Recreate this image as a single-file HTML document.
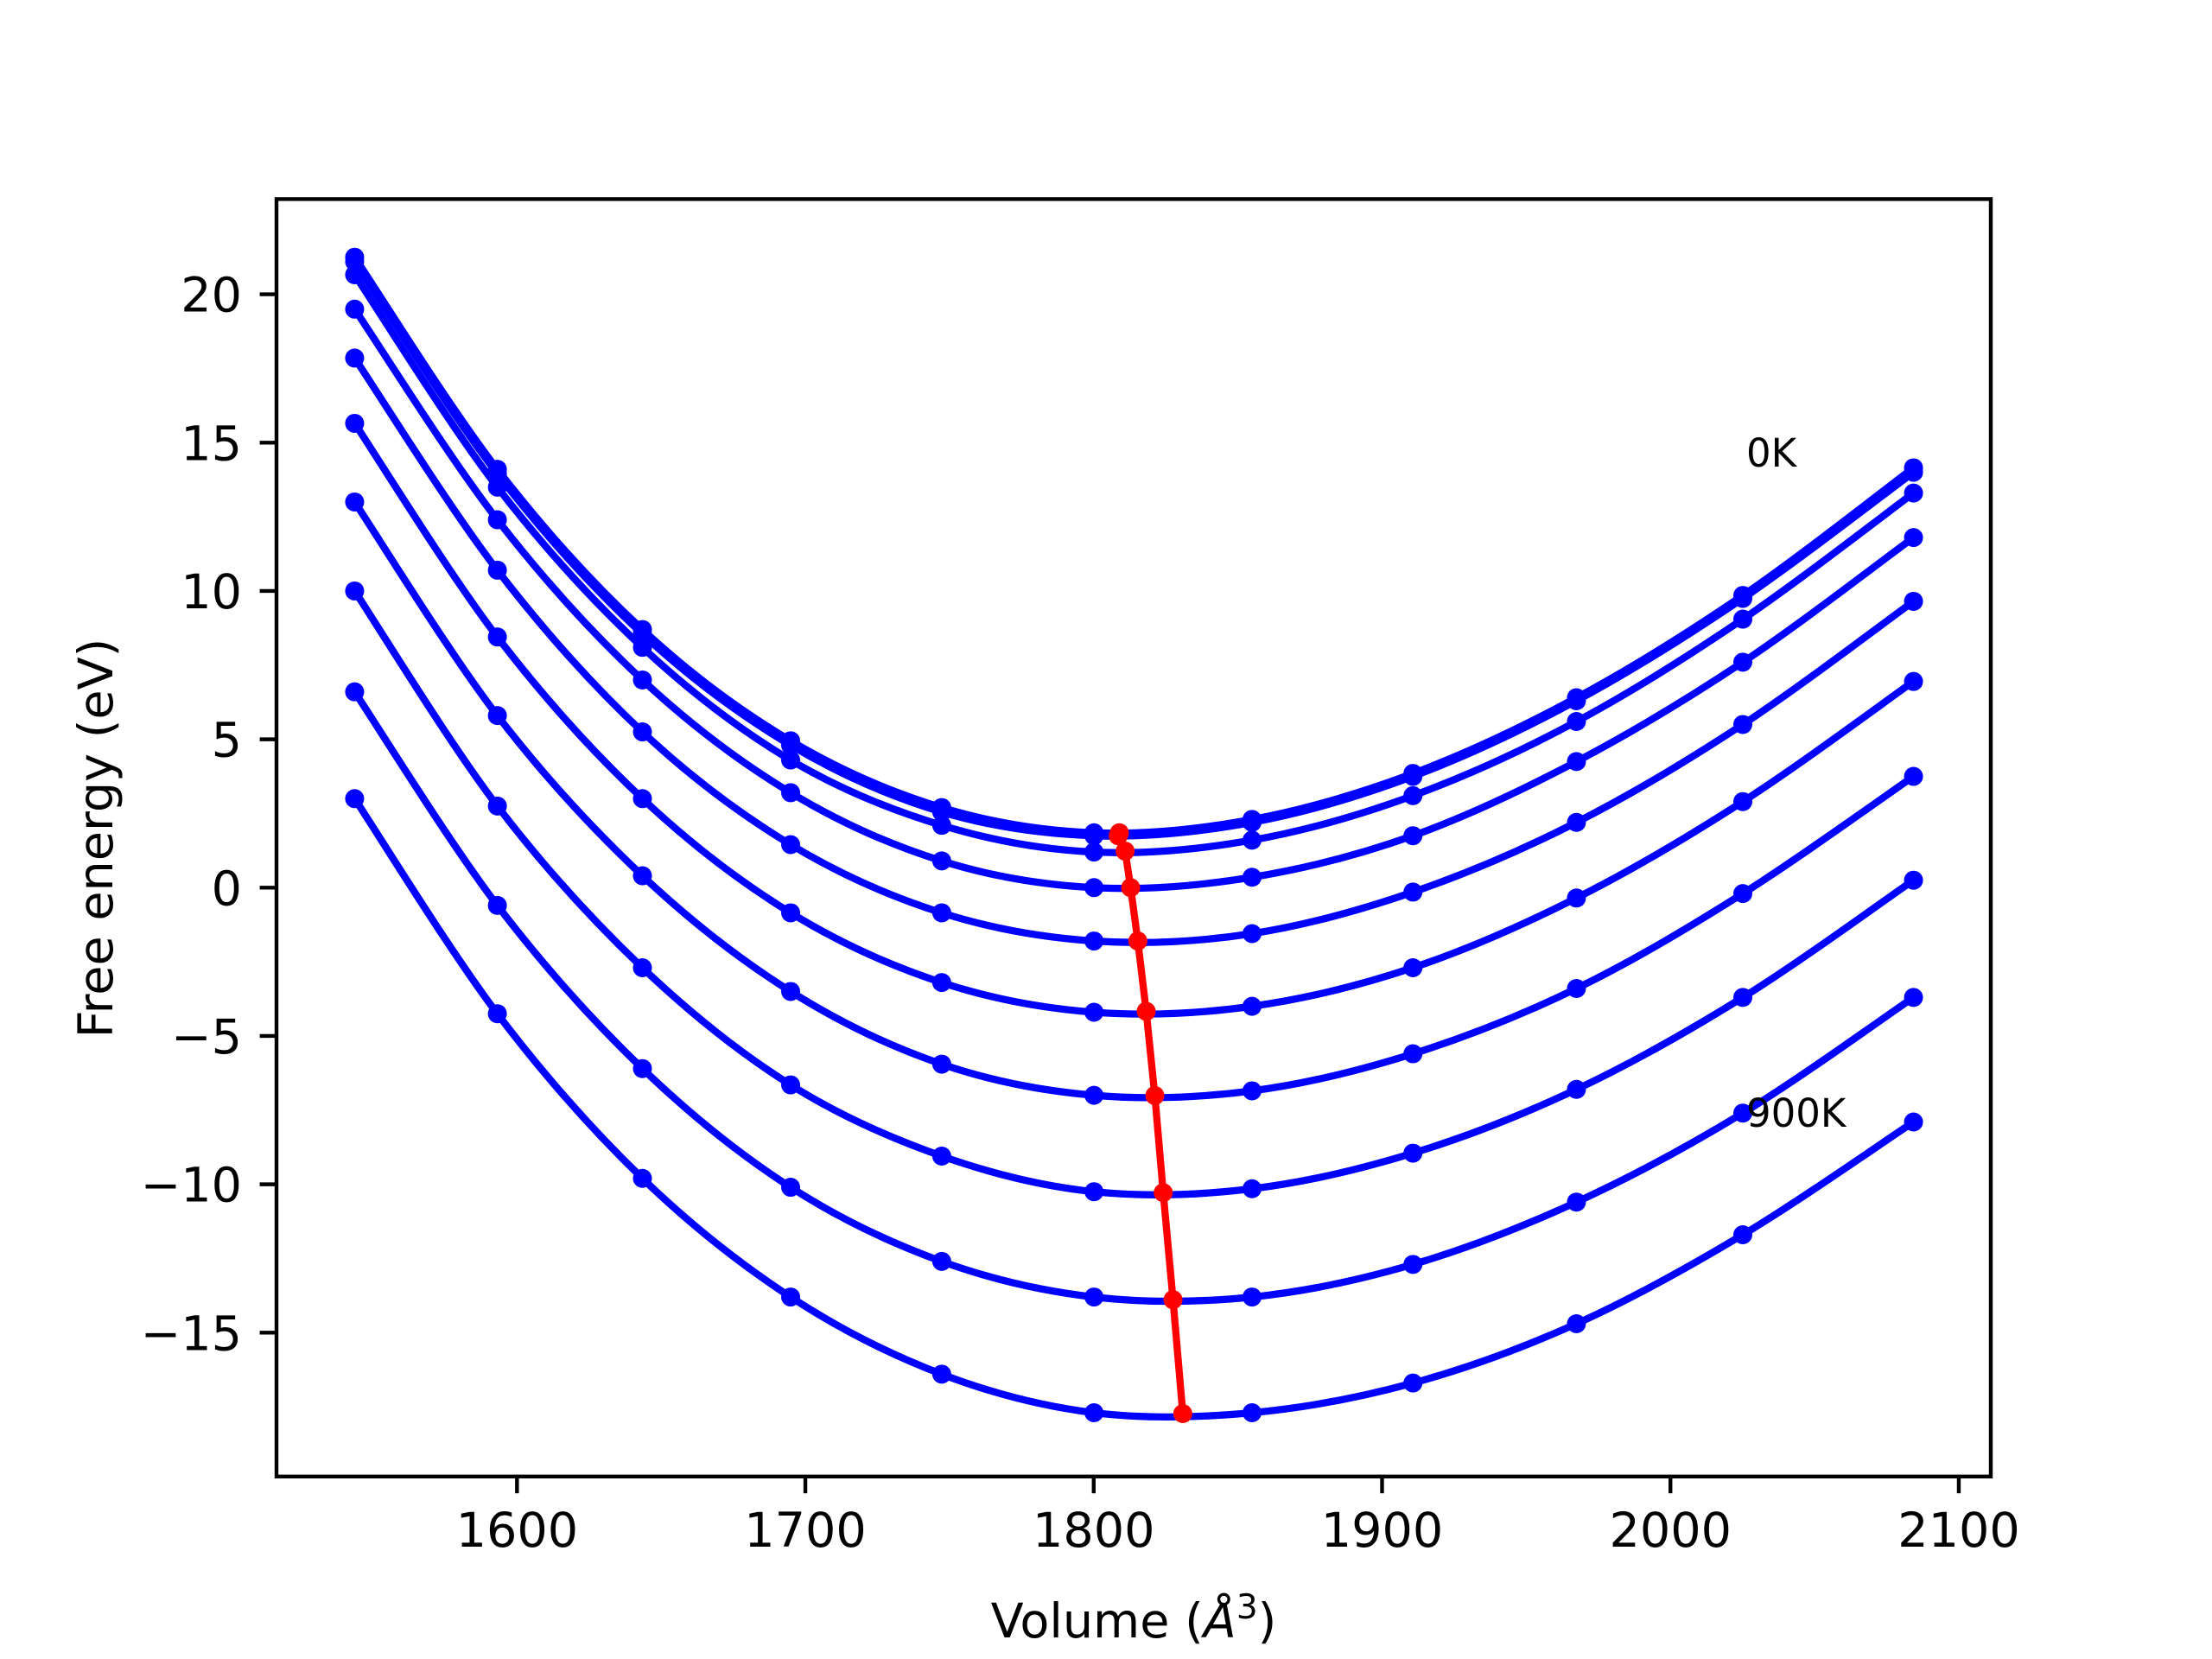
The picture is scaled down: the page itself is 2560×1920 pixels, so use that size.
<!DOCTYPE html>
<html><head><meta charset="utf-8">
<style>
html,body{margin:0;padding:0;background:#fff;}
svg{display:block;font-family:"DejaVu Sans","Liberation Sans",sans-serif;}
</style></head>
<body>
<svg id="chart" width="2560" height="1920" viewBox="0 0 2560 1920" xmlns="http://www.w3.org/2000/svg">
<rect x="0" y="0" width="2560" height="1920" fill="#fff"/>
<g id="plot"></g>
<g id="axes"></g>
<text x="1312" y="1895" font-size="55.6" text-anchor="middle">Volume (<tspan font-style="italic">Å</tspan><tspan font-size="39" dy="-22">3</tspan><tspan dy="22">)</tspan></text>
<text transform="translate(130,970) rotate(-90)" font-size="55.6" text-anchor="middle">Free energy (eV)</text>
<text x="2021" y="540" font-size="45">0K</text>
<text x="2021" y="1304" font-size="45">900K</text>
</svg>
<script>
const volumes = [1543.7, 1593.2, 1643.5, 1694.9, 1747.3, 1800.1, 1854.9, 1910.7, 1967.4, 2025.1, 2084.3];
const curve0 = [21.25, 14.1, 8.7, 4.95, 2.7, 1.85, 2.3, 3.85, 6.4, 9.85, 14.15];
const curve1 = [21.1, 13.95, 8.55, 4.8, 2.55, 1.75, 2.2, 3.75, 6.3, 9.75, 14.0];
const curve2 = [20.66, 13.5, 8.1, 4.3, 2.1, 1.2, 1.6, 3.1, 5.6, 9.05, 13.3];
const curve3 = [19.5, 12.4, 7.0, 3.2, 0.9, 0.0, 0.35, 1.75, 4.25, 7.6, 11.8];
const curve4 = [17.85, 10.7, 5.25, 1.45, -0.85, -1.8, -1.55, -0.15, 2.2, 5.5, 9.65];
const curve5 = [15.65, 8.45, 3.0, -0.85, -3.2, -4.2, -4.0, -2.7, -0.35, 2.9, 6.95];
const curve6 = [13.0, 5.8, 0.4, -3.5, -5.95, -7.0, -6.85, -5.6, -3.4, -0.2, 3.75];
const curve7 = [10.0, 2.75, -2.7, -6.65, -9.05, -10.25, -10.15, -8.95, -6.8, -3.7, 0.25];
const curve8 = [6.6, -0.6, -6.1, -10.1, -12.6, -13.8, -13.8, -12.7, -10.6, -7.6, -3.7];
const curve9 = [3.0, -4.25, -9.8, -13.8, -16.4, -17.7, -17.7, -16.7, -14.7, -11.7, -7.9];
const curves = [curve0, curve1, curve2, curve3, curve4, curve5, curve6, curve7, curve8, curve9];
const minVolumes = [1808.5, 1808.9, 1810.9, 1812.8, 1815.3, 1818.2, 1821.2, 1824.1, 1827.5, 1830.9];
const minEnergies = [1.75, 1.85, 1.23, 0.0, -1.8, -4.17, -7.01, -10.28, -13.89, -17.73];
const xTicks = [1600, 1700, 1800, 1900, 2000, 2100];
const yTicks = [-15, -10, -5, 0, 5, 10, 15, 20];
const xTickLabels = ["1600", "1700", "1800", "1900", "2000", "2100"];
const yTickLabels = ["\u221215", "\u221210", "\u22125", "0", "5", "10", "15", "20"];

const L = 320, R = 2304, T = 230.4, B = 1708.8;
const xMin = 1516.6, xMax = 2111.1, yMin = -19.85, yMax = 23.21;
const NS = "http://www.w3.org/2000/svg";
function sx(v){ return L + (v - xMin) / (xMax - xMin) * (R - L); }
function sy(v){ return B - (v - yMin) / (yMax - yMin) * (B - T); }
function mk(tag, attrs, parent){
  const e = document.createElementNS(NS, tag);
  for (const k in attrs) e.setAttribute(k, attrs[k]);
  parent.appendChild(e); return e;
}
function smoothPath(xs, ys){
  const p = xs.map((x, i) => [sx(x), sy(ys[i])]);
  let d = "M" + p[0][0] + "," + p[0][1];
  for (let i = 0; i < p.length - 1; i++){
    const p0 = p[i - 1] || p[i], p1 = p[i], p2 = p[i + 1], p3 = p[i + 2] || p[i + 1];
    const c1x = p1[0] + (p2[0] - p0[0]) / 6, c1y = p1[1] + (p2[1] - p0[1]) / 6;
    const c2x = p2[0] - (p3[0] - p1[0]) / 6, c2y = p2[1] - (p3[1] - p1[1]) / 6;
    d += " C" + c1x + "," + c1y + " " + c2x + "," + c2y + " " + p2[0] + "," + p2[1];
  }
  return d;
}
const plot = document.getElementById("plot");
const axes = document.getElementById("axes");
curves.forEach((c, ci) => {
  const g = mk("g", {}, plot);
  
  
  const path = mk("path", {d: smoothPath(volumes, c), fill: "none", stroke: "#0000ff", "stroke-width": 8.3, "stroke-linejoin": "round"}, g);
  
  
  c.forEach((v, i) => {
    const dot = mk("circle", {cx: sx(volumes[i]), cy: sy(v), r: 11, fill: "#0000ff"}, g);
    
    
  });
});
const rg = mk("g", {}, plot);


const rpts = minVolumes.map((x, i) => sx(x) + "," + sy(minEnergies[i])).join(" ");
const rl = mk("polyline", {points: rpts, fill: "none", stroke: "#ff0000", "stroke-width": 8.3, "stroke-linejoin": "round"}, rg);


minVolumes.forEach((x, i) => {
  const dot = mk("circle", {cx: sx(x), cy: sy(minEnergies[i]), r: 11, fill: "#ff0000"}, rg);
  
  
});
const frame = mk("rect", {x: L, y: T, width: R - L, height: B - T, fill: "none", stroke: "#000", "stroke-width": 4.4}, axes);


xTicks.forEach((v, i) => {
  const x = sx(v);
  const t = mk("line", {x1: x, x2: x, y1: B, y2: B + 19.4, stroke: "#000", "stroke-width": 4.4}, axes);
  
  
  const lb = mk("text", {x: x, y: 1790, "font-size": 55.6, "text-anchor": "middle"}, axes);
  lb.textContent = xTickLabels[i];
  
  
});
yTicks.forEach((v, i) => {
  const y = sy(v);
  const t = mk("line", {x1: L - 19.4, x2: L, y1: y, y2: y, stroke: "#000", "stroke-width": 4.4}, axes);
  
  
  const lb = mk("text", {x: 280, y: y + 20, "font-size": 55.6, "text-anchor": "end"}, axes);
  lb.textContent = yTickLabels[i];
  
  
});
</script>
</body></html>
